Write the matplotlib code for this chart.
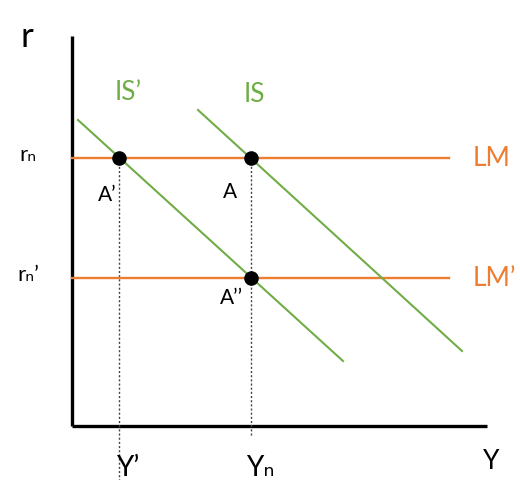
import matplotlib.pyplot as plt

# output Y and interest rate r, origin at the axis corner
y_axis_top = 390
x_axis_end = 415

lm_r = [268, 148]          # LM, LM'
lm_labels = ['LM', 'LM\u2019']
lm_x_end = 377

is_x = [126, 390]
is_r = [316, 75]
is2_x = [6, 271]
is2_r = [306, 65]

pts_x = [47, 179, 179]
pts_r = [268, 268, 148]
pt_labels = ['A\u2019', 'A', 'A\u2019\u2019']

y_ticks = [47, 179]
y_tick_labels = ['Y\u2019', 'Y\u2099']
r_ticks = [268, 148]
r_tick_labels = ['r\u2099', 'r\u2099\u2019']

green = '#70AD47'
orange = '#ED7D31'
fam = ['Lato', 'DejaVu Sans']

fig = plt.figure(figsize=(5.2, 4.81), dpi=100)
ax = fig.add_axes([0, 0, 1, 1])
ax.set_xlim(-72, 448)
ax.set_ylim(-54, 427)
ax.axis('off')

# axes
ax.plot([0, 0], [0, y_axis_top], color='black', lw=2.4, solid_capstyle='butt')
ax.plot([0, x_axis_end], [0, 0], color='black', lw=2.4, solid_capstyle='butt')

# dotted guides
ax.plot([pts_x[0], pts_x[0]], [pts_r[0], -54], color='#444444', lw=1, ls=(0, (1.5, 1.5)))
ax.plot([pts_x[1], pts_x[1]], [pts_r[1], -10], color='#444444', lw=1, ls=(0, (1.5, 1.5)))

# LM curves
for r, lab in zip(lm_r, lm_labels):
    ax.plot([0, lm_x_end], [r, r], color=orange, lw=1.7)
    ax.text(lm_x_end + 24, r, lab, color=orange, fontsize=19, family=fam,
            va='center', ha='left')

# IS curves
ax.plot(is_x, is_r, color=green, lw=1.5)
ax.plot(is2_x, is2_r, color=green, lw=1.5)
ax.text(182, 332, 'IS', color=green, fontsize=19, family=fam, ha='center', va='center')
ax.text(56, 335, 'IS\u2019', color=green, fontsize=19, family=fam, ha='center', va='center')

# equilibrium points
ax.scatter(pts_x, pts_r, s=90, color='black', zorder=5)
ax.text(35, 232, pt_labels[0], fontsize=15, family=fam, ha='center', va='center')
ax.text(158, 235, pt_labels[1], fontsize=15, family=fam, ha='center', va='center')
ax.text(160, 129, pt_labels[2], fontsize=15, family=fam, ha='center', va='center')

# axis labels
ax.text(-45, 390, 'r', fontsize=25, family=fam, ha='center', va='center')
ax.text(419, -35, 'Y', fontsize=19, family=fam, ha='center', va='center')
for x, lab in zip(y_ticks, y_tick_labels):
    ax.text(x + 9, -41, lab, fontsize=20, family=fam, ha='center', va='center')
for r, lab in zip(r_ticks, r_tick_labels):
    ax.text(-44, r + 4, lab, fontsize=16, family=fam, ha='center', va='center')

fig.savefig('out.png', dpi=100)
